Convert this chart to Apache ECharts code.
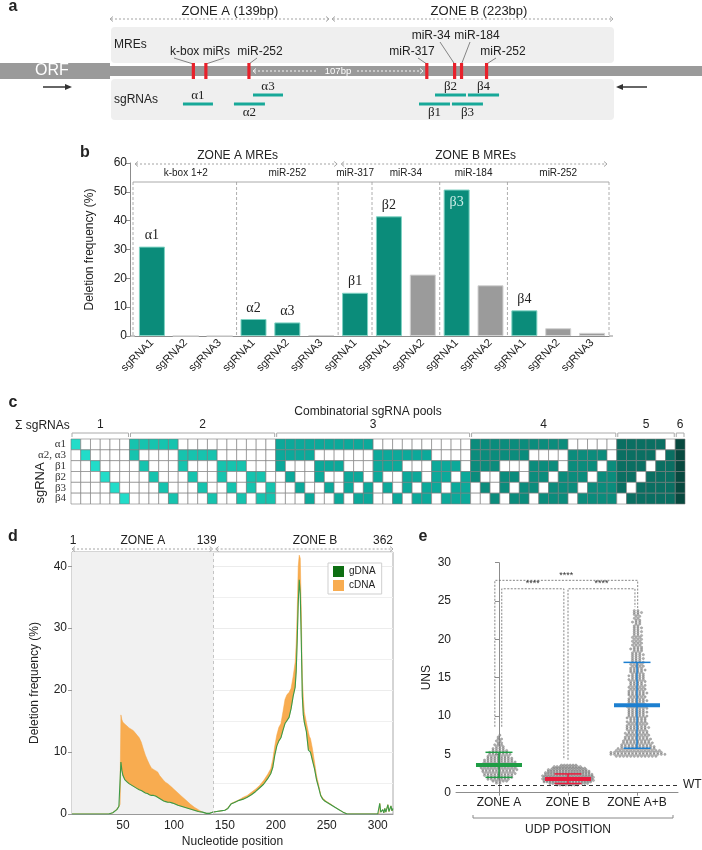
<!DOCTYPE html>
<html><head><meta charset="utf-8">
<script src="https://cdn.jsdelivr.net/npm/echarts@6/dist/echarts.min.js"></script>
<style>html,body{margin:0;padding:0;background:#fff}#c{width:702px;height:850px}</style>
</head><body><div id="c"></div>
<script>
// ---------------- DATA ----------------
// panel a (schematic positions, bp-like schematic units)
const mreNames = ['k-box miRs', '', 'miR-252', 'miR-317', 'miR-34', 'miR-184', 'miR-252'];
const mrePos = [60, 69, 100, 228, 248, 253, 271];
const sgNames = ['α1', 'α2', 'α3', 'β1', 'β2', 'β3', 'β4'];
const sgStart = [52.5, 89.2, 102.9, 222.4, 233.9, 246.1, 257.6];
const sgEnd = [74.1, 111.5, 124.5, 244.7, 256.2, 268.4, 280.0];
const sgLane = [1, 1, 0, 1, 0, 1, 0];          // 0 = upper lane, 1 = lower lane
const sgLabelAbove = [1, 0, 1, 0, 1, 0, 1];
const zoneTitles = ['ZONE A (139bp)', 'ZONE B (223bp)'];

// panel b
const bCats = ['sgRNA1','sgRNA2','sgRNA3','sgRNA1','sgRNA2','sgRNA3','sgRNA1','sgRNA1','sgRNA2','sgRNA1','sgRNA2','sgRNA1','sgRNA2','sgRNA3'];
const bValues = [31.0, 0, 0, 5.9, 4.7, 0.3, 15.0, 41.5, 21.3, 50.8, 17.6, 8.9, 2.7, 1.1];
const bLabels = ['α1','','','α2','α3','','β1','β2','','β3','','β4','',''];
const bGroups = ['k-box 1+2','miR-252','miR-317','miR-34','miR-184','miR-252'];
const bGroupSizes = [3, 3, 1, 2, 2, 3];
const bZones = ['ZONE A MREs', 'ZONE B MREs'];
const bZoneSizes = [6, 8];

// panel c
const cRows = ['α1', 'α2, α3', 'β1', 'β2', 'β3', 'β4'];
const cPools = [
 '100000','010000','001000','000100','000010','000001',
 '110000','101000','100100','100010','100001','011000','010100','010010','010001','001100','001010','001001','000110','000101','000011',
 '111000','110100','110010','110001','101100','101010','101001','100110','100101','100011','011100','011010','011001','010110','010101','010011','001110','001101','001011','000111',
 '111100','111010','111001','110110','110101','110011','101110','101101','101011','100111','011110','011101','011011','010111','001111',
 '111110','111101','111011','110111','101111','011111',
 '111111'];
const cGroupLabels = ['1','2','3','4','5','6'];

// panel d
const dPos = [0,30,36,40,44,46,47,48,49,50,52,54,56,58,60,62,64,66,68,70,72,74,76,78,80,82,84,86,88,90,92,94,96,98,100,104,108,112,116,120,124,128,132,135,138,142,146,150,153,156,160,164,168,172,176,180,184,188,192,195,197,199,201,203,205,207,209,211,213,215,217,219,220,221,222,223,224,225,226,227,228,230,232,233,234,236,238,240,242,244,246,248,250,254,258,262,266,270,300,301,302,303,305,306,307,308,310,311,313,314,315];
const dG = [0,0,0,0.2,0.7,1.2,1.5,8.4,7.0,6.2,5.5,5.2,4.9,4.7,4.5,4.3,4.1,3.9,3.8,3.6,3.4,3.3,3.1,3.0,3.0,2.9,2.7,2.5,2.3,2.1,2.0,1.9,1.9,1.8,1.7,1.4,1.2,1.0,0.8,0.6,0.4,0.3,0.1,0.1,0.3,0.4,0.5,0.6,0.9,1.6,1.9,2.2,2.4,2.7,3.1,3.6,4.2,4.8,5.7,6.5,7.5,9.5,11.0,11.8,12.3,13.5,14.6,15.1,15.6,17.0,19.0,20.5,23.0,28.0,34.0,37.8,35.5,28.0,19.0,16.0,14.8,13.3,10.3,10.5,10.0,8.6,7.3,5.5,4.3,3.0,2.4,2.1,1.9,1.5,1.1,0.7,0.3,0,0,0,1.7,0.3,0.7,0.2,0.9,0.3,1.5,0.4,1.3,0.5,0.9];
const dC = [0,0,0,0.2,0.8,1.3,1.6,16.0,15.2,14.8,14.5,14.2,13.9,13.7,13.5,13.1,12.7,12.3,11.6,10.5,9.5,8.7,8.0,7.4,7.2,7.0,6.8,6.2,5.8,5.4,5.1,4.9,4.6,4.3,4.0,3.4,2.8,2.2,1.6,1.1,0.7,0.3,0.1,0.1,0.3,0.4,0.5,0.6,1.0,1.7,2.0,2.3,2.7,3.0,3.5,4.0,4.6,5.4,6.4,7.3,8.8,11.0,12.8,14.0,14.6,16.5,18.5,19.3,19.6,20.3,22.2,24.5,27.5,33.0,40.0,41.8,41.3,33.0,22.0,19.0,16.5,14.8,13.2,12.5,12.2,10.5,8.4,6.2,4.8,3.2,2.6,2.3,2.0,1.6,1.1,0.7,0.3,0,0,0,0,0,0,0,0,0,0,0,0,0,0];
const dZoneEnd = 139;
const dTop = ['1', 'ZONE A', '139', 'ZONE B', '362'];

// panel e
const eGroups = ['ZONE A', 'ZONE B', 'ZONE A+B'];
const eMeans = [3.6, 1.8, 11.4];
const eSDlow = [2.0, 1.2, 5.8];
const eSDhigh = [5.27, 2.45, 17.0];
const eBinStart = [1.25, 1.0, 4.75];
const eBinStep = [0.25, 0.2, 0.25];
const eCountsA = [2,5,7,8,9,10,10,11,11,11,10,10,9,8,7,7,6,5,4,3,3,2,2,2,1,1];
const eCountsB = [8,14,17,18,18,18,18,17,16,15,14,12,10,6];
const eCountsAB = [12,16,15,13,11,10,9,9,8,8,7,7,7,6,6,7,6,6,6,5,6,6,5,6,5,6,6,5,5,6,5,5,5,6,5,5,5,5,4,5,5,4,5,4,4,5,4,4,4,4,3,4,3,4,3,3,4,3,3,3,3,3,3,3,2,3,2,3,2,2,3,2,2,2,2,3,2];
const eWT = 1;
const eSig = ['****', '****', '****'];
const eBrX1 = [-0.06, 0.04, 1.0];
const eBrX2 = [2.01, 0.94, 1.97];
const eBrTop = [27.7, 26.6, 26.6];
const eBrEnd1 = [8.6, 8.6, 4.3];
const eBrEnd2 = [24.0, 4.3, 24.2];

// ---------------- STYLE ----------------
const FONT = "'Liberation Sans', Arial, Helvetica, sans-serif";
const SERIF = "'Liberation Serif', 'DejaVu Serif', serif";
const TEAL = '#0b8c7a', GRAYBAR = '#9b9b9b', INK = '#222';
const cColors = ['#22dcc9', '#16c3ae', '#0ca99a', '#0b8c7c', '#0a6f62', '#07493f'];
const eColors = ['#1f9d45', '#ea1b3d', '#1c7fd0'];
const eDotSpacingPx = [3.4, 2.9, 3.6];
function fnt(size, bold, fam) { return (bold ? 'bold ' : '') + size + 'px ' + (fam || FONT); }

const chart = echarts.init(document.getElementById('c'), null, {renderer: 'canvas', width: 702, height: 850});

// panel c cell data
const cData = [];
cPools.forEach((s, col) => {
  const g = s.split('').filter(ch => ch === '1').length - 1;
  for (let r = 0; r < 6; r++) cData.push([col, r, s[r] === '1' ? 1 : 0, g]);
});
// panel e swarm data (layout of points within each value bin)
const eSwarm = [];
[eCountsA, eCountsB, eCountsAB].forEach((counts, gi) => {
  const sp = eDotSpacingPx[gi] / 69;
  counts.forEach((n, j) => {
    const y = eBinStart[gi] + j * eBinStep[gi];
    const shift = (j % 2) ? sp * 0.25 : -sp * 0.25;
    for (let k = 0; k < n; k++) eSwarm.push([gi + (k - (n - 1) / 2) * sp + shift, y]);
  });
});

const axisGray = '#8c8c8c';

const option = {
  animation: false,
  backgroundColor: '#fff',
  textStyle: {fontFamily: FONT},
  grid: [
    {left: 110, width: 503, top: 27, height: 93, outerBoundsMode: 'none'},
    {left: 135, right: 93, top: 163, bottom: 514, outerBoundsMode: 'none'},
    {left: 71, right: 17, top: 439, height: 65, outerBoundsMode: 'none'},
    {left: 72, right: 309, top: 552, bottom: 36, show: true, borderColor: '#aaa', borderWidth: 1, backgroundColor: 'transparent', outerBoundsMode: 'none'},
    {left: 456, right: 24, top: 562.7, bottom: 57.3, outerBoundsMode: 'none'},
    {left: 464.5, right: 30.5, top: 562.7, bottom: 57.3, outerBoundsMode: 'none'}
  ],
  xAxis: [
    {gridIndex: 0, type: 'value', min: 0, max: 362, show: false},
    {gridIndex: 1, type: 'category', data: bCats.map((c, i) => 'c' + i),
      axisLine: {lineStyle: {color: axisGray}}, axisTick: {alignWithLabel: true, length: 4, lineStyle: {color: axisGray}},
      axisLabel: {interval: 0, rotate: 45, fontSize: 11, color: INK, margin: 5, hideOverlap: false, formatter: (v, i) => bCats[i]}},
    {gridIndex: 2, type: 'category', data: cPools.map((s, i) => 'p' + i), show: false},
    {gridIndex: 3, type: 'value', min: 0, max: 315, interval: 50,
      axisLine: {show: true, lineStyle: {color: '#999'}}, axisTick: {show: false},
      axisLabel: {fontSize: 12, color: INK, margin: 6, showMinLabel: false, showMaxLabel: false},
      splitLine: {show: false},
      name: 'Nucleotide position', nameLocation: 'middle', nameGap: 22, nameTextStyle: {fontSize: 12, color: INK}},
    {gridIndex: 4, type: 'value', min: -0.623, max: 2.594,
      axisLine: {show: true, onZero: false, lineStyle: {color: axisGray}}, axisTick: {show: false}, axisLabel: {show: false}, splitLine: {show: false}},
    {gridIndex: 5, type: 'category', data: eGroups,
      axisLine: {show: false}, axisTick: {show: true, alignWithLabel: true, length: 3, lineStyle: {color: axisGray}},
      axisLabel: {interval: 0, hideOverlap: false, fontSize: 12, color: INK, margin: 4}}
  ],
  yAxis: [
    {gridIndex: 0, type: 'value', min: 0, max: 93, inverse: true, show: false},
    {gridIndex: 1, type: 'value', min: 0, max: 60, interval: 10, offset: 5,
      axisLine: {show: true, lineStyle: {color: axisGray}}, axisTick: {show: true, length: 4, lineStyle: {color: axisGray}},
      axisLabel: {fontSize: 12, color: INK, margin: 3}, splitLine: {show: false},
      name: 'Deletion frequency (%)', nameLocation: 'middle', nameGap: 34, nameTextStyle: {fontSize: 12, color: INK}},
    {gridIndex: 2, type: 'category', data: cRows, inverse: true,
      axisLine: {show: false}, axisTick: {show: false},
      axisLabel: {interval: 0, hideOverlap: false, fontSize: 11, color: '#333', margin: 5, fontFamily: SERIF}},
    {gridIndex: 3, type: 'value', min: 0, max: 42.3, interval: 10,
      axisLine: {show: true, lineStyle: {color: '#999'}}, axisTick: {show: true, length: 4, lineStyle: {color: '#999'}},
      axisLabel: {fontSize: 12, color: INK, margin: 5, showMaxLabel: false},
      splitLine: {show: true, lineStyle: {color: '#ececec'}},
      minorTick: {show: false, splitNumber: 2}, minorSplitLine: {show: true, lineStyle: {color: '#f0f0f0'}},
      name: 'Deletion frequency (%)', nameLocation: 'middle', nameGap: 31, nameTextStyle: {fontSize: 12, color: INK}},
    {gridIndex: 4, type: 'value', min: 0, max: 30, interval: 5,
      axisLine: {show: true, lineStyle: {color: axisGray}}, axisTick: {show: true, length: 4, lineStyle: {color: axisGray}},
      axisLabel: {fontSize: 12, color: INK, margin: 5}, splitLine: {show: false},
      name: 'UNS', nameLocation: 'middle', nameGap: 23, nameTextStyle: {fontSize: 12, color: INK}},
    {gridIndex: 5, type: 'value', min: 0, max: 30, show: false}
  ],
  legend: {
    left: 328, top: 563, orient: 'vertical', icon: 'rect', itemWidth: 11, itemHeight: 11, itemGap: 3,
    padding: [3, 6, 3, 5], borderColor: '#cfcfcf', borderWidth: 1, backgroundColor: '#fff',
    textStyle: {fontSize: 10, color: INK},
    data: [{name: 'gDNA', itemStyle: {color: '#0d6e12'}}, {name: 'cDNA', itemStyle: {color: '#f8ac50'}}]
  },
  series: [
    // panel a: MRE marks
    {type: 'custom', xAxisIndex: 0, yAxisIndex: 0, z: 5, silent: true,
      data: mrePos.map(p => [p, 36]),
      renderItem: (params, api) => {
        const a = api.coord([api.value(0), 36]), b = api.coord([api.value(0), 52]);
        return {type: 'rect', shape: {x: a[0] - 1.6, y: a[1], width: 3.2, height: b[1] - a[1]}, style: {fill: '#e8212b'}};
      }},
    // panel a: sgRNA positions
    {type: 'custom', xAxisIndex: 0, yAxisIndex: 0, z: 5, silent: true,
      data: sgStart.map((s, i) => [s, sgLane[i] ? 77 : 68, sgEnd[i], i]),
      renderItem: (params, api) => {
        const i = api.value(3);
        const p1 = api.coord([api.value(0), api.value(1)]), p2 = api.coord([api.value(2), api.value(1)]);
        const ty = sgLabelAbove[i] ? p1[1] - 8 : p1[1] + 8.5;
        return {type: 'group', children: [
          {type: 'line', shape: {x1: p1[0], y1: p1[1], x2: p2[0], y2: p2[1]}, style: {stroke: '#17a898', lineWidth: 3}},
          {type: 'text', x: (p1[0] + p2[0]) / 2, y: ty, style: {text: sgNames[i], font: fnt(13, false, SERIF), fill: INK, align: 'center', verticalAlign: 'middle'}}
        ]};
      }},
    // panel b bars
    {type: 'bar', xAxisIndex: 1, yAxisIndex: 1, barWidth: 26, z: 3,
      data: bValues.map((v, i) => ({
        value: v,
        itemStyle: {color: bLabels[i] ? TEAL : GRAYBAR, borderColor: bLabels[i] ? '#7fd2c3' : '#d2d2d2', borderWidth: 1},
        label: {show: !!bLabels[i], position: i === 9 ? 'insideTop' : 'top', distance: i === 9 ? 6 : 4,
          formatter: bLabels[i] || ' ', fontFamily: SERIF, fontSize: 14, color: i === 9 ? '#cdeee8' : INK}
      }))},
    // panel c pools grid
    {type: 'custom', xAxisIndex: 2, yAxisIndex: 2, silent: true,
      data: cData,
      renderItem: (params, api) => {
        const c = api.coord([api.value(0), api.value(1)]);
        const s = api.size([1, 1]);
        return {type: 'rect', shape: {x: c[0] - s[0] / 2, y: c[1] - s[1] / 2, width: s[0], height: s[1]},
          style: {fill: api.value(2) ? cColors[api.value(3)] : '#fff', stroke: '#7b7b7b', lineWidth: 0.6}};
      }},
    // panel d: zone A shading & boundary (carried by an invisible gDNA copy)
    {name: 'gBase', type: 'line', xAxisIndex: 3, yAxisIndex: 3, symbol: 'none', silent: true, z: 1,
      data: dPos.map((x, i) => [x, dG[i]]), lineStyle: {width: 0, opacity: 0}, itemStyle: {color: '#3d9a4a'},
      markArea: {silent: true, itemStyle: {color: '#f1f1f1'}, data: [[{xAxis: 0}, {xAxis: dZoneEnd}]]},
      markLine: {silent: true, symbol: 'none', label: {show: false}, lineStyle: {color: '#c4c4c4', type: [3, 3], width: 1}, data: [{xAxis: dZoneEnd}]}},
    // panel d: cDNA excess band between gDNA and cDNA
    {name: 'cDNA', type: 'custom', xAxisIndex: 3, yAxisIndex: 3, silent: true, z: 3, clip: true,
      itemStyle: {color: '#f8ac50'},
      data: [[dPos[0], dC[0]]],
      renderItem: (params, api) => {
        const top = dPos.map((x, i) => api.coord([x, Math.max(dC[i], dG[i])]));
        const bot = dPos.map((x, i) => api.coord([x, dG[i]])).reverse();
        return {type: 'polygon', shape: {points: top.concat(bot)}, style: {fill: '#f8ac50', stroke: '#f4a445', lineWidth: 0.5}};
      }},
    {name: 'gDNA', type: 'line', xAxisIndex: 3, yAxisIndex: 3, symbol: 'none', silent: true, z: 4,
      data: dPos.map((x, i) => [x, dG[i]]), lineStyle: {width: 1.1, color: '#3b9a47'}, itemStyle: {color: '#0d6e12'}},
    // panel e swarm
    {type: 'scatter', xAxisIndex: 4, yAxisIndex: 4, silent: true, symbolSize: 2.3, z: 3,
      itemStyle: {color: '#a0a0a0', borderColor: '#505050', borderWidth: 0.35},
      data: eSwarm,
      markLine: {silent: true, symbol: 'none', data: [{yAxis: eWT}], lineStyle: {type: [4, 3], color: '#333', width: 1},
        label: {show: true, position: 'end', formatter: 'WT', fontSize: 12, color: INK, distance: 5}}},
    // panel e mean ± SD
    {type: 'custom', xAxisIndex: 4, yAxisIndex: 4, z: 6, silent: true,
      data: eMeans.map((m, i) => [i, m, eSDlow[i], eSDhigh[i]]),
      renderItem: (params, api) => {
        const i = api.value(0);
        const m = api.coord([i, api.value(1)]), lo = api.coord([i, api.value(2)]), hi = api.coord([i, api.value(3)]);
        const col = eColors[params.dataIndex];
        return {type: 'group', children: [
          {type: 'line', shape: {x1: m[0], y1: lo[1], x2: m[0], y2: hi[1]}, style: {stroke: col, lineWidth: 1.5}},
          {type: 'line', shape: {x1: m[0] - 13.5, y1: lo[1], x2: m[0] + 13.5, y2: lo[1]}, style: {stroke: col, lineWidth: 1.5}},
          {type: 'line', shape: {x1: m[0] - 13.5, y1: hi[1], x2: m[0] + 13.5, y2: hi[1]}, style: {stroke: col, lineWidth: 1.5}},
          {type: 'line', shape: {x1: m[0] - 23, y1: m[1], x2: m[0] + 23, y2: m[1]}, style: {stroke: col, lineWidth: 4}}
        ]};
      }},
    // panel e significance brackets
    {type: 'custom', xAxisIndex: 4, yAxisIndex: 4, z: 6, silent: true,
      data: eSig.map((s, i) => [eBrX1[i], eBrTop[i], eBrX2[i], eBrEnd1[i], eBrEnd2[i], i]),
      renderItem: (params, api) => {
        const x1 = api.value(0), t = api.value(1), x2 = api.value(2);
        const a = api.coord([x1, api.value(3)]), b = api.coord([x1, t]), c = api.coord([x2, t]), d = api.coord([x2, api.value(4)]);
        return {type: 'group', children: [
          {type: 'polyline', shape: {points: [a, b, c, d]}, style: {stroke: '#666', lineWidth: 0.8, lineDash: [2, 1.5], fill: null}},
          {type: 'text', x: (b[0] + c[0]) / 2, y: b[1] - 5, style: {text: eSig[api.value(5)], font: fnt(9), fill: '#333', align: 'center', verticalAlign: 'middle'}}
        ]};
      }}
  ]
};
chart.setOption(option);

// ---------------- ANNOTATIONS ----------------
const G = [];
function T(x, y, text, o) {
  o = o || {};
  G.push({type: 'text', x: x, y: y, rotation: o.rot || 0, z: o.z || 1,
    style: {text: text, font: fnt(o.size || 12, o.bold, o.fam), fill: o.color || INK, align: o.align || 'center', verticalAlign: 'middle'}});
}
function L(x1, y1, x2, y2, o) {
  o = o || {};
  G.push({type: 'line', z: o.z || 1, shape: {x1, y1, x2, y2}, style: {stroke: o.color || '#999', lineWidth: o.w || 1, lineDash: o.dash || null}});
}
function P(points, o) {
  o = o || {};
  G.push({type: 'polyline', z: o.z || 1, shape: {points}, style: {stroke: o.color || '#999', lineWidth: o.w || 1, fill: null, lineDash: o.dash || null}});
}
function R(x, y, w, h, fill, r, z) {
  G.push({type: 'rect', z: z || 0, shape: {x, y, width: w, height: h, r: r || 0}, style: {fill}});
}
function chevron(x, y, dir, color, z) { // dir -1 left, +1 right
  P([[x - dir * 3, y - 2.5], [x, y], [x - dir * 3, y + 2.5]], {color: color, w: 0.9, z: z});
}
function dottedBracket(x1, x2, y, color, z) {
  L(x1 + 1, y, x2 - 1, y, {color: color, dash: [2, 2], w: 0.9, z: z});
  chevron(x1, y, -1, color, z); chevron(x2, y, 1, color, z);
}
function arrow(x1, x2, y) {
  const dir = x2 > x1 ? 1 : -1;
  L(x1, y, x2 - dir * 4, y, {color: '#333', w: 1.5});
  G.push({type: 'polygon', z: 1, shape: {points: [[x2, y], [x2 - dir * 7, y - 3], [x2 - dir * 7, y + 3]]}, style: {fill: '#333'}});
}

// panel letters
T(13, 7, 'a', {size: 16, bold: true});
T(85, 153, 'b', {size: 16, bold: true});
T(13, 403, 'c', {size: 16, bold: true});
T(13, 537, 'd', {size: 16, bold: true});
T(423, 537, 'e', {size: 16, bold: true});

// ---- panel a ----
T(230, 11, zoneTitles[0], {size: 13});
T(479, 11, zoneTitles[1], {size: 13});
dottedBracket(110, 329, 19, '#9a9a9a');
dottedBracket(332, 613, 19, '#9a9a9a');
R(111, 27, 503, 36, '#efefef', 4);
R(111, 79, 503, 41, '#efefef', 4);
R(110, 66, 592, 10, '#9a9a9a', 0, 0);
R(0, 63, 110, 16, '#9a9a9a', 0, 0);
T(52, 71, 'ORF', {size: 16, color: '#fff', z: 2});
T(114, 45, 'MREs', {size: 12, align: 'left'});
T(114, 100, 'sgRNAs', {size: 12, align: 'left'});
arrow(43, 72, 87);
arrow(647, 616, 87);
// 107bp spacer (white dashed)
L(254, 71, 318, 71, {color: '#fff', dash: [2, 2], w: 0.9, z: 2});
L(357, 71, 421, 71, {color: '#fff', dash: [2, 2], w: 0.9, z: 2});
chevron(253, 71, -1, '#fff', 2); chevron(423, 71, 1, '#fff', 2);
T(338, 71, '107bp', {size: 9.5, color: '#fff', z: 2});
// MRE labels and leaders
const mreLabelXY = [[200, 52], null, [260, 52], [412, 52], [431, 36], [477, 36], [503, 52]];
const mreLeadFrom = [[174, 58], [224, 58], [257, 58], [418, 58], [440, 42], [470, 42], [496, 58]];
mrePos.forEach((p, i) => {
  const px = chart.convertToPixel({xAxisIndex: 0, yAxisIndex: 0}, [p, 36]);
  if (mreNames[i] && mreLabelXY[i]) T(mreLabelXY[i][0], mreLabelXY[i][1], mreNames[i], {size: 12});
  L(mreLeadFrom[i][0], mreLeadFrom[i][1], px[0], px[1] + 1, {color: '#555', w: 0.7});
});

// ---- panel b ----
{
  const c0 = chart.convertToPixel({xAxisIndex: 1}, 0), c1 = chart.convertToPixel({xAxisIndex: 1}, 1);
  const band = c1 - c0, left = c0 - band / 2;
  const yTop = 182, yBase = chart.convertToPixel({yAxisIndex: 1}, 0);
  L(130, yBase, left, yBase, {color: axisGray});
  L(left + band * bCats.length, yBase, 613, yBase, {color: axisGray});
  L(left - 2, yTop, left + band * bCats.length, yTop, {color: '#aaa'});
  let k = 0;
  const bounds = [0];
  bGroupSizes.forEach((n, gi) => {
    const xA = left + k * band, xB = left + (k + n) * band;
    T((xA + xB) / 2, 173, bGroups[gi], {size: 10});
    k += n; bounds.push(k);
  });
  bounds.forEach((b, i) => {
    const x = left + b * band + (i === 0 ? -2 : 0);
    L(x, yTop, x, yBase, {color: '#999', dash: [3, 2], w: 0.8});
  });
  let z0 = 0;
  bZoneSizes.forEach((n, zi) => {
    const xA = left + z0 * band, xB = left + (z0 + n) * band;
    dottedBracket(xA + (zi ? 3 : 0), xB - (zi ? 2 : 1), 164, '#9a9a9a');
    T((xA + xB) / 2 + (zi ? 2 : 1), 156, bZones[zi], {size: 12});
    z0 += n;
  });
}

// ---- panel c ----
{
  const x0 = chart.convertToPixel({xAxisIndex: 2}, 0), x1 = chart.convertToPixel({xAxisIndex: 2}, 1);
  const w = x1 - x0, left = x0 - w / 2;
  T(368, 412, 'Combinatorial sgRNA pools', {size: 12});
  T(15, 426, 'Σ sgRNAs', {size: 12, align: 'left'});
  T(40, 483, 'sgRNA', {size: 13, rot: Math.PI / 2});
  let start = 0;
  for (let g = 0; g < 6; g++) {
    let n = 0;
    while (start + n < cPools.length && cPools[start + n].split('').filter(ch => ch === '1').length === g + 1) n++;
    const xa = left + start * w + 1, xb = left + (start + n) * w - 1;
    P([[xa, 437], [xa, 433], [xb, 433], [xb, 437]], {color: '#aaa', w: 1});
    T((xa + xb) / 2, 425, cGroupLabels[g], {size: 12});
    start += n;
  }
}

// ---- panel d ----
{
  const xa = chart.convertToPixel({xAxisIndex: 3}, 0);
  const xz = chart.convertToPixel({xAxisIndex: 3}, dZoneEnd);
  const xr = 393;
  dottedBracket(xa, xz - 1, 549, '#9a9a9a');
  dottedBracket(xz + 2, xr, 549, '#9a9a9a');
  T(xa + 1, 541, dTop[0], {size: 12});
  T((xa + xz) / 2, 541, dTop[1], {size: 12});
  T(xz - 7, 541, dTop[2], {size: 12});
  T(315, 541, dTop[3], {size: 12});
  T(xr, 541, dTop[4], {size: 12, align: 'right'});
}

// ---- panel e ----
P([[473, 815], [473, 818], [673, 818], [673, 815]], {color: '#888', w: 1});
T(568, 830, 'UDP POSITION', {size: 12});

chart.setOption({graphic: G});
</script>
</body></html>
